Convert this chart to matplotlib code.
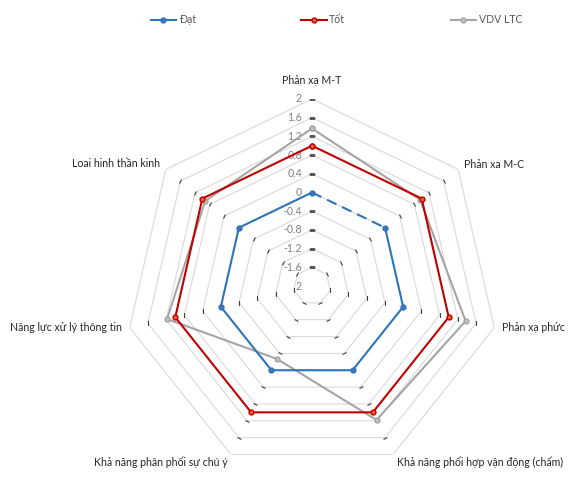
import numpy as np
import matplotlib.pyplot as plt
from matplotlib.markers import MarkerStyle
from matplotlib.transforms import Affine2D

plt.rcParams['font.family'] = ['Lato', 'DejaVu Sans']

# chart data
categories = ['Phản xạ M-T', 'Phản xa M-C', 'Phản xạ phức',
              'Khả năng phối hợp vận động (chấm)', 'Khả năng phân phối sự chú ý',
              'Năng lực xử lý thông tin', 'Loai hinh thần kinh']
dat = [0, 0, 0, 0, 0, 0, 0]
tot = [1.0, 1.0, 1.0, 1.0, 1.0, 1.0, 1.0]
vdv = [1.37, 0.96, 1.37, 1.18, -0.27, 1.18, 0.92]
ring_levels = [-1.6, -1.2, -0.8, -0.4, 0, 0.4, 0.8, 1.2, 1.6, 2]
tick_labels = ['2', '-1.6', '-1.2', '-0.8', '-0.4', '0', '0.4', '0.8', '1.2', '1.6', '2']
tick_values = [-2, -1.6, -1.2, -0.8, -0.4, 0, 0.4, 0.8, 1.2, 1.6, 2]

n = len(categories)
theta = np.linspace(0, 2 * np.pi, n, endpoint=False)
theta_c = np.append(theta, theta[0])

fig = plt.figure(figsize=(5.81, 4.98), dpi=100)
cx, cy, R = 312 / 581, 1 - 286 / 498, 187
ax = fig.add_axes([cx - R / 581, cy - R / 498, 2 * R / 581, 2 * R / 498], projection='polar')
ax.set_theta_offset(np.pi / 2)
ax.set_theta_direction(-1)
ax.set_ylim(-2, 2)
ax.grid(False)
ax.spines['polar'].set_visible(False)
ax.set_xticks([])
ax.set_yticks([])
ax.patch.set_alpha(0)

# heptagon grid rings
for lv in ring_levels:
    ax.plot(theta_c, [lv] * (n + 1), color='#D9D9D9', lw=0.8, zorder=1)

# small tick marks at the ring corners
for k, t in enumerate(theta):
    phi = np.degrees(t)
    m = MarkerStyle('_', transform=Affine2D().rotate_deg(-phi))
    if k == 0:
        ax.plot([t] * len(ring_levels), ring_levels, ls='none', marker=m,
                markersize=5, markeredgewidth=0.9, color='#595959', zorder=2)
    else:
        ax.plot([t] * len(ring_levels[:-1]), ring_levels[:-1], ls='none', marker=m,
                markersize=3.2, markeredgewidth=0.8, color='#404040', zorder=2)

# value labels on the top axis
for lbl, v in zip(tick_labels, tick_values):
    ax.annotate(lbl, (0, v), xytext=(-10, 0), textcoords='offset pixels',
                ha='right', va='center', fontsize=7.6, color='#808080')

# series
blue, red, gray = '#2E75B6', '#C00000', '#A5A5A5'
dat_c = dat + [dat[0]]
ax.plot(theta_c[1:], dat_c[1:], color=blue, lw=1.5, marker='o', markersize=3.5,
        markerfacecolor='#4472C4', markeredgecolor=blue, zorder=4, label='Đạt')
ax.plot(theta_c[:2], dat_c[:2], color=blue, lw=1.5, ls=(0, (5, 3)), zorder=4)
ax.plot(theta_c, tot + [tot[0]], color=red, lw=1.5, marker='o', markersize=3.5,
        markerfacecolor='#E8632B', markeredgecolor=red, zorder=5, label='Tốt')
ax.plot(theta_c, vdv + [vdv[0]], color=gray, lw=1.5, marker='o', markersize=3.5,
        markerfacecolor='#BFBFBF', markeredgecolor=gray, zorder=3, label='VDV LTC')

# category labels
offsets = [(0, 18, 'center'), (6, 5, 'left'), (8, 0, 'left'), (4, -8, 'left'),
           (-3, -8, 'right'), (-8, 0, 'right'), (-6, 6, 'right')]
for t, name, (dx, dy, ha) in zip(theta, categories, offsets):
    ax.annotate(name, (t, 2), xytext=(dx, dy), textcoords='offset pixels',
                ha=ha, va='center', fontsize=7.6, color='#262626')

handles, labels = ax.get_legend_handles_labels()
fig.legend(handles, labels, loc='center', bbox_to_anchor=(0.579, 0.96), ncol=3,
           frameon=False, fontsize=7.6, handlelength=2.4, handletextpad=0.25,
           columnspacing=10.0, labelcolor='#595959')

fig.savefig('out.png', dpi=100)
